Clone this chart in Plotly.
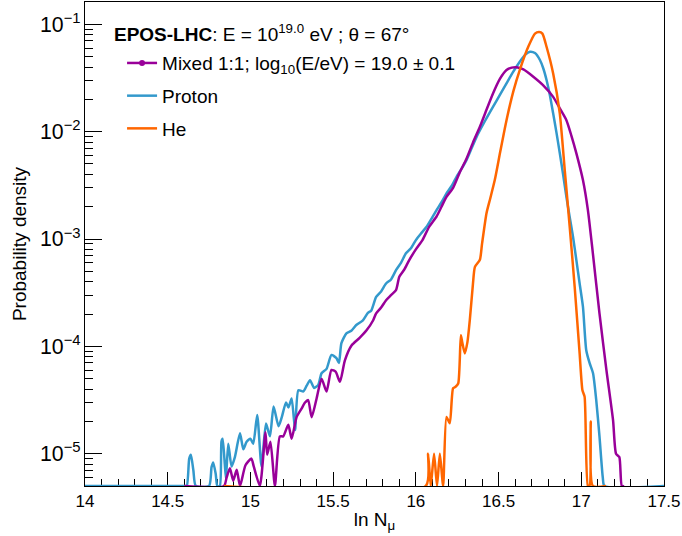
import plotly.graph_objects as go

# ---------------- data ----------------
Y_MIN = 5e-6   # bottom of the axis: empty bins are drawn on the frame

proton_x = [14.00, 14.60, 14.615, 14.63, 14.64, 14.655, 14.67, 14.75, 14.765, 14.775, 14.79, 14.80,
            14.815, 14.825, 14.832, 14.845, 14.852, 14.866, 14.886, 14.906, 14.937, 14.957, 14.977,
            15.00, 15.017, 15.041, 15.067, 15.094, 15.118, 15.14, 15.17, 15.19, 15.215, 15.23, 15.249,
            15.27, 15.29, 15.32, 15.34, 15.36, 15.385, 15.41, 15.43, 15.46, 15.49, 15.52, 15.535,
            15.55, 15.58, 15.61, 15.64, 15.68, 15.71, 15.73, 15.76, 15.79, 15.82, 15.85, 15.88,
            15.91, 15.94, 15.97, 16.00, 16.03, 16.065, 16.095, 16.125, 16.155, 16.185, 16.215,
            16.246, 16.276, 16.306, 16.337, 16.367, 16.417, 16.467, 16.508, 16.548, 16.588, 16.628,
            16.66, 16.69, 16.72, 16.75, 16.77, 16.79, 16.81, 16.83, 16.85, 16.87, 16.89, 16.91,
            16.93, 16.95, 16.97, 16.99, 17.01, 17.03, 17.05, 17.071, 17.09, 17.11, 17.13, 17.14, 17.50]
proton_y = [0, 0, 0, 9.0e-6, 9.8e-6, 7.0e-6, 0, 0, 7.5e-6, 8.3e-6, 6.5e-6, 0,
            0, 1.3e-5, 1.38e-5, 8.0e-6, 5.9e-6, 1.24e-5, 7.6e-6, 9.3e-6, 1.55e-5, 1.10e-5, 1.29e-5,
            1.38e-5, 1.24e-5, 2.29e-5, 7.6e-6, 1.91e-5, 1.45e-5, 2.75e-5, 1.8e-5, 2.2e-5, 3.0e-5, 2.7e-5, 3.27e-5,
            1.66e-5, 3.89e-5, 3.80e-5, 4.3e-5, 4.84e-5, 4.1e-5, 4.37e-5, 5.62e-5, 6.17e-5, 8.32e-5, 7.76e-5, 7.0e-5,
            1.07e-4, 1.32e-4, 1.40e-4, 1.58e-4, 1.75e-4, 2.05e-4, 2.15e-4, 2.89e-4, 3.25e-4, 3.85e-4, 4.2e-4, 5.13e-4,
            6.0e-4, 7.35e-4, 8.2e-4, 9.77e-4, 1.12e-3, 1.30e-3, 1.55e-3, 1.86e-3, 2.2e-3, 2.66e-3, 3.1e-3,
            3.8e-3, 4.5e-3, 5.43e-3, 7.0e-3, 8.95e-3, 1.25e-2, 1.71e-2, 2.2e-2, 2.82e-2, 3.6e-2, 4.49e-2,
            5.2e-2, 5.56e-2, 5.4e-2, 4.65e-2, 3.9e-2, 3.03e-2, 2.2e-2, 1.48e-2, 9.8e-3, 6.31e-3, 4.0e-3, 2.47e-3,
            1.6e-3, 1.05e-3, 6.4e-4, 3.85e-4, 2.34e-4, 9.2e-5, 7.0e-5, 5.62e-5, 3.2e-5, 1.45e-5, 6e-6, 0, 0]

mixed_x = [14.60, 14.84, 14.856, 14.876, 14.896, 14.917, 14.937, 14.97, 15.006, 15.02, 15.057, 15.091,
           15.101, 15.121, 15.148, 15.178, 15.198, 15.229, 15.249, 15.279, 15.309, 15.33, 15.349, 15.37,
           15.40, 15.43, 15.46, 15.49, 15.515, 15.541, 15.571, 15.611, 15.66, 15.702, 15.742, 15.76,
           15.79, 15.82, 15.85, 15.88, 15.90, 15.93, 15.96, 16.00, 16.04, 16.08, 16.125, 16.155, 16.185,
           16.225, 16.266, 16.306, 16.345, 16.387, 16.427, 16.467, 16.508, 16.548, 16.58, 16.608, 16.65,
           16.71, 16.77, 16.83, 16.87, 16.91, 16.94, 16.97, 17.01, 17.04, 17.07, 17.11, 17.152, 17.192,
           17.21, 17.23, 17.245, 17.26]
mixed_y = [0, 0, 6.0e-6, 7.3e-6, 5.6e-6, 7.1e-6, 0, 7.8e-6, 9.0e-6, 7.6e-6, 0, 1.58e-5,
           9.8e-6, 1.29e-5, 0, 1.45e-5, 1.45e-5, 1.86e-5, 1.38e-5, 2.19e-5, 2.63e-5, 3.0e-5, 3.16e-5, 2.19e-5,
           3.27e-5, 5.0e-5, 3.8e-5, 6.03e-5, 5.8e-5, 4.68e-5, 7.41e-5, 1.02e-4, 1.2e-4, 1.41e-4, 1.75e-4, 2.03e-4,
           2.3e-4, 2.69e-4, 3.0e-4, 3.34e-4, 4.45e-4, 5.2e-4, 6.37e-4, 8.0e-4, 9.77e-4, 1.3e-3, 1.62e-3, 2.0e-3, 2.47e-3,
           3.0e-3, 4.2e-3, 5.6e-3, 7.9e-3, 1.11e-2, 1.6e-2, 2.28e-2, 3.1e-2, 3.75e-2, 3.95e-2, 3.98e-2, 3.8e-2,
           3.25e-2, 2.7e-2, 2.11e-2, 1.65e-2, 1.28e-2, 9.2e-3, 6.31e-3, 3.54e-3, 1.86e-3, 7.35e-4, 2.03e-4, 6.0e-5, 2.05e-5,
           1.0e-5, 9.3e-6, 0, 0]

he_x = [14.84, 16.06, 16.074, 16.09, 16.11, 16.128, 16.145, 16.165, 16.185, 16.205, 16.225, 16.24,
        16.256, 16.272, 16.28, 16.296, 16.312, 16.326, 16.345, 16.357, 16.387, 16.40, 16.427, 16.45,
        16.477, 16.51, 16.548, 16.59, 16.628, 16.68, 16.72, 16.745, 16.765, 16.79, 16.83, 16.87,
        16.90, 16.93, 16.96, 16.99, 17.007, 17.02, 17.04, 17.05, 17.057, 17.07, 17.15]
he_y = [0, 0, 1.0e-5, 0, 1.0e-5, 0, 1.0e-5, 0, 2.2e-5, 1.92e-5, 4.07e-5, 4.2e-5,
        4.5e-5, 1.27e-4, 1.1e-4, 8.6e-5, 1.1e-4, 1.75e-4, 3.8e-4, 5.5e-4, 6.4e-4, 9.0e-4, 1.74e-3, 2.4e-3,
        3.54e-3, 6.5e-3, 1.28e-2, 2.4e-2, 3.75e-2, 6.2e-2, 8.2e-2, 8.5e-2, 8.2e-2, 6.18e-2, 3.49e-2, 1.48e-2,
        4.39e-3, 1.30e-3, 3.59e-4, 8.6e-5, 3.9e-5, 3.4e-5, 0, 0, 2.0e-5, 0, 0]

header = "<b>EPOS-LHC</b>: E = 10<sup>19.0</sup> eV ; θ = 67°"
names = ["Mixed 1:1; log<sub>10</sub>(E/eV) = 19.0 ± 0.1", "Proton", "He"]

# ---------------- styles ----------------
C_MIX, C_P, C_HE = "#990099", "#3399cc", "#ff6600"
FONT = "Liberation Sans, Arial, Helvetica, sans-serif"
LW = 2.5
TXT = 19


def floor(vals):
    return [max(v, Y_MIN) for v in vals]


fig = go.Figure()
fig.add_trace(go.Scatter(x=proton_x, y=floor(proton_y), mode="lines", name=names[1],
                         line=dict(color=C_P, width=LW, shape="spline", smoothing=0.6),
                         legendgroup="b", legendrank=2))
fig.add_trace(go.Scatter(x=mixed_x, y=floor(mixed_y), mode="lines", name=names[0],
                         line=dict(color=C_MIX, width=LW, shape="spline", smoothing=0.6),
                         showlegend=False, legendgroup="a"))
fig.add_trace(go.Scatter(x=he_x, y=floor(he_y), mode="lines", name=names[2],
                         line=dict(color=C_HE, width=LW, shape="spline", smoothing=0.6),
                         legendgroup="c", legendrank=3))
# legend entry for the mixed sample (line with a marker, as in the reference legend)
fig.add_trace(go.Scatter(x=[None], y=[None], mode="lines+markers", name=names[0],
                         line=dict(color=C_MIX, width=LW), marker=dict(color=C_MIX, size=6),
                         legendgroup="a", legendrank=1))

axis_common = dict(showgrid=False, zeroline=False, showline=True, linecolor="black", linewidth=1,
                   mirror=True, ticks="inside", tickcolor="black", tickwidth=1,
                   tickfont=dict(family=FONT, size=17, color="black"), layer="below traces")

fig.update_layout(
    width=682, height=536,
    margin=dict(l=85, r=18, t=2, b=50),
    paper_bgcolor="white", plot_bgcolor="white",
    font=dict(family=FONT, size=TXT, color="black"),
    xaxis=dict(range=[14, 17.5], tick0=14, dtick=0.5, ticklen=14,
               minor=dict(ticks="inside", ticklen=7, dtick=0.1, tickcolor="black", showgrid=False),
               title=dict(text="ln N<sub>μ</sub>", font=dict(family=FONT, size=TXT), standoff=2),
               **axis_common),
    yaxis=dict(type="log", range=[-5.301, -0.792], dtick=1, exponentformat="power", ticklen=17,
               minor=dict(ticks="inside", ticklen=8, dtick="D1", tickcolor="black", showgrid=False),
               title=dict(text="Probability density", font=dict(family=FONT, size=TXT), standoff=8),
               **axis_common),
    legend=dict(x=0.064, y=0.913, xanchor="left", yanchor="top", bgcolor="rgba(0,0,0,0)",
                font=dict(family=FONT, size=TXT), traceorder="grouped", tracegroupgap=5),
    showlegend=True,
    annotations=[dict(text=header, xref="paper", yref="paper", x=0.046, y=0.936,
                      xanchor="left", yanchor="middle", showarrow=False,
                      font=dict(family=FONT, size=TXT, color="black"))],
)

fig.write_html("out.html")
